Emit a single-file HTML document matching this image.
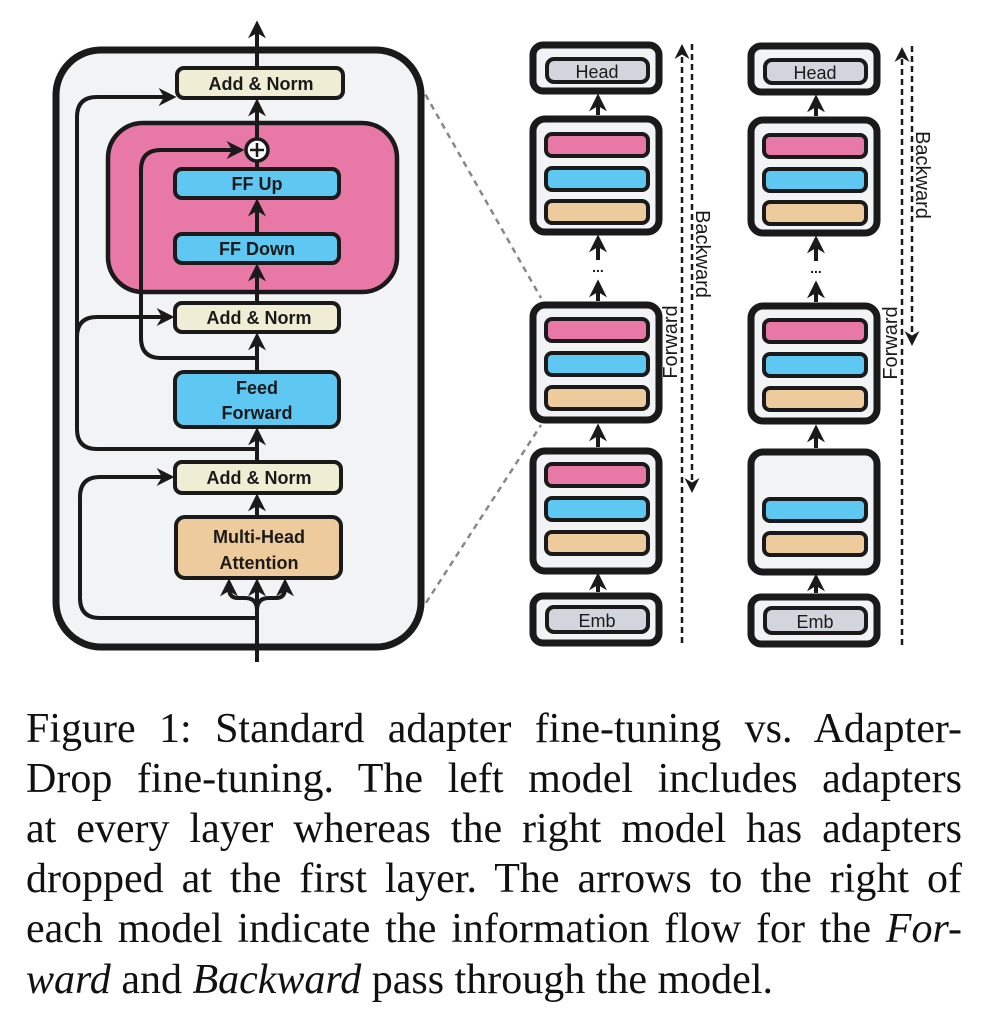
<!DOCTYPE html>
<html><head><meta charset="utf-8"><style>
html,body{margin:0;padding:0;background:#fff;}
body{width:984px;height:1026px;position:relative;overflow:hidden;}
svg{position:absolute;left:0;top:0;}
.cap{position:absolute;left:26px;width:936px;font-family:"Liberation Serif",serif;font-size:42px;line-height:50px;color:#111;white-space:nowrap;}
.j{text-align:justify;text-align-last:justify;white-space:normal;}
</style></head><body>
<svg width="984" height="700" viewBox="0 0 984 700" font-family="Liberation Sans, sans-serif">
<defs>
<marker id="ah" viewBox="0 0 10 10" refX="8" refY="5" markerWidth="4.5" markerHeight="4.5" orient="auto-start-reverse"><path d="M0,0 L10,5 L0,10 L3,5 z" fill="#1a1a1a"/></marker>
<marker id="ad" viewBox="0 0 10 10" refX="8" refY="5" markerWidth="6" markerHeight="6" orient="auto-start-reverse"><path d="M0,0 L10,5 L0,10 L3,5 z" fill="#1a1a1a"/></marker>
</defs>
<line x1="420" y1="85" x2="541" y2="298" stroke="#888" stroke-width="2.5" stroke-dasharray="6,5"/>
<line x1="420" y1="612" x2="541" y2="425" stroke="#888" stroke-width="2.5" stroke-dasharray="6,5"/>
<rect x="56" y="50" width="365" height="597" rx="45" fill="#f2f3f5" stroke="#1a1a1a" stroke-width="7"/>
<g stroke="#1a1a1a" stroke-width="4" fill="none">
<line x1="257" y1="662" x2="257" y2="600"/>
<line x1="257" y1="600" x2="257" y2="582" marker-end="url(#ah)"/>
<path d="M257,610 Q257,598 245,598 L238,598 Q229,598 229,588" />
<line x1="229" y1="590" x2="229" y2="582" marker-end="url(#ah)"/>
<path d="M257,610 Q257,598 269,598 L276,598 Q285,598 285,588" />
<line x1="285" y1="590" x2="285" y2="582" marker-end="url(#ah)"/>
<line x1="257" y1="516" x2="257" y2="497" marker-end="url(#ah)"/>
<line x1="257" y1="461" x2="257" y2="431" marker-end="url(#ah)"/>
<line x1="257" y1="371" x2="257" y2="336" marker-end="url(#ah)"/>
<line x1="257" y1="302" x2="257" y2="267" marker-end="url(#ah)"/>
<line x1="257" y1="233" x2="257" y2="202" marker-end="url(#ah)"/>
<line x1="257" y1="168" x2="257" y2="162"/>
<line x1="257" y1="139" x2="257" y2="102" marker-end="url(#ah)"/>
<line x1="257" y1="67" x2="257" y2="24" marker-end="url(#ah)"/>
<path d="M257,618 L100,618 Q80,618 80,598 L80,497 Q80,477 100,477 L171,477" marker-end="url(#ah)"/>
<path d="M257,449 L97,449 Q77,449 77,429 L77,117 Q77,97 97,97 L173,97" marker-end="url(#ah)"/>
<path d="M77,337 Q77,317 97,317 L171,317" marker-end="url(#ah)"/>
<path d="M257,358 L161,358 Q141,358 141,338 L141,170 Q141,150 161,150 L241,150" marker-end="url(#ah)"/>
</g>
<rect x="108" y="123" width="289" height="169" rx="35" fill="#e879a6" stroke="#1a1a1a" stroke-width="4.5"/>
<g stroke="#1a1a1a" stroke-width="4" fill="none">
<line x1="257" y1="292" x2="257" y2="267" marker-end="url(#ah)"/>
<line x1="257" y1="233" x2="257" y2="202" marker-end="url(#ah)"/>
<line x1="257" y1="168" x2="257" y2="162"/>
<line x1="257" y1="139" x2="257" y2="123"/>
<path d="M141,292 L141,170 Q141,150 161,150 L241,150" marker-end="url(#ah)"/>
</g>
<circle cx="257" cy="150" r="11" fill="#fff" stroke="#1a1a1a" stroke-width="3.5"/>
<line x1="250" y1="150" x2="264" y2="150" stroke="#1a1a1a" stroke-width="2.5"/>
<line x1="257" y1="143" x2="257" y2="157" stroke="#1a1a1a" stroke-width="2.5"/>
<g stroke="#1a1a1a" stroke-width="4">
<rect x="177" y="68" width="166" height="30" rx="7" fill="#efeed5"/>
<rect x="175" y="169" width="164" height="29" rx="7" fill="#5fc8f2"/>
<rect x="175" y="234" width="164" height="29" rx="7" fill="#5fc8f2"/>
<rect x="175" y="303" width="164" height="29" rx="7" fill="#efeed5"/>
<rect x="175" y="372" width="164" height="55" rx="9" fill="#5fc8f2"/>
<rect x="175" y="462" width="166" height="31" rx="7" fill="#efeed5"/>
<rect x="176" y="517" width="165" height="61" rx="9" fill="#eecb9c"/>
</g>
<g font-weight="bold" font-size="18" fill="#1a1a1a" text-anchor="middle">
<text x="261" y="90">Add &amp; Norm</text>
<text x="257" y="190">FF Up</text>
<text x="257" y="255">FF Down</text>
<text x="259" y="324">Add &amp; Norm</text>
<text x="257" y="394">Feed</text>
<text x="257" y="419">Forward</text>
<text x="259" y="484">Add &amp; Norm</text>
<text x="259" y="543">Multi-Head</text>
<text x="259" y="569">Attention</text>
</g>
<g>
<g stroke="#1a1a1a" stroke-width="7" fill="#f2f3f5">
<rect x="533" y="45" width="126" height="46" rx="10"/>
<rect x="533" y="119" width="126" height="113" rx="12"/>
<rect x="533" y="305" width="126" height="115" rx="12"/>
<rect x="533" y="451" width="126" height="120" rx="12"/>
<rect x="533" y="596" width="126" height="47" rx="10"/>
</g>
<g stroke="#1a1a1a" stroke-width="4">
<rect x="547" y="59" width="101" height="23" rx="7" fill="#d3d5dc"/>
<rect x="546" y="134" width="102" height="22" rx="6" fill="#e879a6"/>
<rect x="546" y="168" width="102" height="22" rx="6" fill="#5fc8f2"/>
<rect x="546" y="201" width="102" height="22" rx="6" fill="#eecb9c"/>
<rect x="546" y="319" width="102" height="22" rx="6" fill="#e879a6"/>
<rect x="546" y="353" width="102" height="22" rx="6" fill="#5fc8f2"/>
<rect x="546" y="387" width="102" height="22" rx="6" fill="#eecb9c"/>
<rect x="546" y="464" width="102" height="22" rx="6" fill="#e879a6"/>
<rect x="546" y="498" width="102" height="22" rx="6" fill="#5fc8f2"/>
<rect x="546" y="532" width="102" height="22" rx="6" fill="#eecb9c"/>
<rect x="547" y="607" width="101" height="25" rx="7" fill="#d3d5dc"/>
</g>
<g stroke="#1a1a1a" stroke-width="4">
<line x1="598" y1="115" x2="598" y2="97" marker-end="url(#ah)"/>
<line x1="598" y1="260" x2="598" y2="238" marker-end="url(#ah)"/>
<line x1="598" y1="301" x2="598" y2="283" marker-end="url(#ah)"/>
<line x1="598" y1="447" x2="598" y2="427" marker-end="url(#ah)"/>
<line x1="598" y1="592" x2="598" y2="576" marker-end="url(#ah)"/>
</g>
<text x="598" y="272" font-size="14" font-weight="bold" text-anchor="middle" fill="#1a1a1a">...</text>
<text x="597" y="78" font-size="18" text-anchor="middle" fill="#1a1a1a">Head</text>
<text x="597" y="627" font-size="18" text-anchor="middle" fill="#1a1a1a">Emb</text>
</g>
<g transform="translate(218,1)">
<g stroke="#1a1a1a" stroke-width="7" fill="#f2f3f5">
<rect x="533" y="45" width="126" height="46" rx="10"/>
<rect x="533" y="119" width="126" height="113" rx="12"/>
<rect x="533" y="305" width="126" height="115" rx="12"/>
<rect x="533" y="451" width="126" height="120" rx="12"/>
<rect x="533" y="596" width="126" height="47" rx="10"/>
</g>
<g stroke="#1a1a1a" stroke-width="4">
<rect x="547" y="59" width="101" height="23" rx="7" fill="#d3d5dc"/>
<rect x="546" y="134" width="102" height="22" rx="6" fill="#e879a6"/>
<rect x="546" y="168" width="102" height="22" rx="6" fill="#5fc8f2"/>
<rect x="546" y="201" width="102" height="22" rx="6" fill="#eecb9c"/>
<rect x="546" y="319" width="102" height="22" rx="6" fill="#e879a6"/>
<rect x="546" y="353" width="102" height="22" rx="6" fill="#5fc8f2"/>
<rect x="546" y="387" width="102" height="22" rx="6" fill="#eecb9c"/>
<rect x="546" y="498" width="102" height="22" rx="6" fill="#5fc8f2"/>
<rect x="546" y="532" width="102" height="22" rx="6" fill="#eecb9c"/>
<rect x="547" y="607" width="101" height="25" rx="7" fill="#d3d5dc"/>
</g>
<g stroke="#1a1a1a" stroke-width="4">
<line x1="598" y1="115" x2="598" y2="97" marker-end="url(#ah)"/>
<line x1="598" y1="260" x2="598" y2="238" marker-end="url(#ah)"/>
<line x1="598" y1="301" x2="598" y2="283" marker-end="url(#ah)"/>
<line x1="598" y1="447" x2="598" y2="427" marker-end="url(#ah)"/>
<line x1="598" y1="592" x2="598" y2="576" marker-end="url(#ah)"/>
</g>
<text x="598" y="272" font-size="14" font-weight="bold" text-anchor="middle" fill="#1a1a1a">...</text>
<text x="597" y="78" font-size="18" text-anchor="middle" fill="#1a1a1a">Head</text>
<text x="597" y="627" font-size="18" text-anchor="middle" fill="#1a1a1a">Emb</text>
</g>
<g stroke="#1a1a1a" stroke-width="2.5" stroke-dasharray="6,4" fill="none">
<line x1="682" y1="643" x2="682" y2="47" marker-end="url(#ad)"/>
<line x1="692" y1="44" x2="692" y2="490" marker-end="url(#ad)"/>
<line x1="902" y1="645" x2="902" y2="50" marker-end="url(#ad)"/>
<line x1="912" y1="46" x2="912" y2="343" marker-end="url(#ad)"/>
</g>
<g font-size="20" fill="#1a1a1a">
<text transform="translate(696,254) rotate(90)" text-anchor="middle">Backward</text>
<text transform="translate(677,342) rotate(-90)" text-anchor="middle">Forward</text>
<text transform="translate(916,175) rotate(90)" text-anchor="middle">Backward</text>
<text transform="translate(897,343) rotate(-90)" text-anchor="middle">Forward</text>
</g>
</svg>
<div class="cap j" style="top:704px;">Figure 1: Standard adapter fine-tuning vs. Adapter-</div>
<div class="cap j" style="top:754px;">Drop fine-tuning. The left model includes adapters</div>
<div class="cap j" style="top:804px;">at every layer whereas the right model has adapters</div>
<div class="cap j" style="top:854px;">dropped at the first layer. The arrows to the right of</div>
<div class="cap j" style="top:904px;">each model indicate the information flow for the <i>For-</i></div>
<div class="cap" style="top:955px;"><i>ward</i> and <i>Backward</i> pass through the model.</div>
</body></html>
